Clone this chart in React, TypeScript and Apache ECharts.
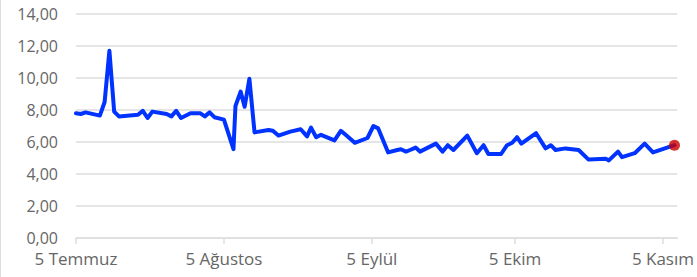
import React, { useEffect, useRef } from "react";
import * as echarts from "echarts";

// Dates (UTC, "YYYY-MM-DD" or "YYYY-MM-DD HH") and values
const dates: string[] = [
  "2023-07-05", "2023-07-06", "2023-07-07", "2023-07-10", "2023-07-11", "2023-07-12",
  "2023-07-13", "2023-07-14", "2023-07-18", "2023-07-19", "2023-07-20", "2023-07-21",
  "2023-07-24", "2023-07-25", "2023-07-26", "2023-07-27", "2023-07-29", "2023-07-31",
  "2023-08-01", "2023-08-02", "2023-08-03", "2023-08-05", "2023-08-07", "2023-08-07 10",
  "2023-08-08 12", "2023-08-09 08", "2023-08-10 08", "2023-08-11 10", "2023-08-14 08",
  "2023-08-15 06", "2023-08-16 10", "2023-08-18 22", "2023-08-21 02", "2023-08-22 10",
  "2023-08-23 06", "2023-08-24 08", "2023-08-25 08", "2023-08-28 04", "2023-08-29 12",
  "2023-08-30 12", "2023-09-01 10", "2023-09-04 02", "2023-09-05 08", "2023-09-06 08",
  "2023-09-08 10", "2023-09-10 08", "2023-09-11 02", "2023-09-12 04", "2023-09-13",
  "2023-09-14 04", "2023-09-15 02", "2023-09-18 10", "2023-09-19 20", "2023-09-20 22",
  "2023-09-22 02", "2023-09-25", "2023-09-27", "2023-09-28 10", "2023-09-29 10",
  "2023-10-02 02", "2023-10-03 08", "2023-10-04 10", "2023-10-05 10", "2023-10-06 08",
  "2023-10-09 10", "2023-10-11 10", "2023-10-12 12", "2023-10-13 12", "2023-10-15 14",
  "2023-10-18 08", "2023-10-20 10", "2023-10-24", "2023-10-24 16", "2023-10-26 14",
  "2023-10-27 10", "2023-10-30 02", "2023-11-01 04", "2023-11-02 22", "2023-11-07 10",
];
const values: number[] = [
  7.8, 7.75, 7.85, 7.65, 8.5, 11.7,
  7.9, 7.6, 7.7, 7.95, 7.5, 7.9,
  7.75, 7.6, 7.95, 7.5, 7.8, 7.8,
  7.6, 7.85, 7.55, 7.4, 5.55, 8.25,
  9.15, 8.2, 9.95, 6.6, 6.75,
  6.7, 6.4, 6.65, 6.8, 6.35,
  6.9, 6.3, 6.45, 6.1, 6.7,
  6.45, 5.95, 6.25, 7.0, 6.85,
  5.35, 5.5, 5.55, 5.4, 5.5,
  5.65, 5.4, 5.9, 5.4, 5.8,
  5.5, 6.4, 5.3, 5.8, 5.25,
  5.25, 5.8, 5.95, 6.3, 5.9,
  6.55, 5.6, 5.8, 5.5, 5.6,
  5.5, 4.9, 4.95, 4.85, 5.4,
  5.05, 5.3, 5.9, 5.35, 5.8,
];
const tickDates: string[] = ["2023-07-05", "2023-08-05", "2023-09-05", "2023-10-05", "2023-11-05"];
const axisStart = "2023-07-05";
const axisEnd = "2023-11-08";
const monthNames: string[] = [
  "Ocak", "Şubat", "Mart", "Nisan", "Mayıs", "Haziran",
  "Temmuz", "Ağustos", "Eylül", "Ekim", "Kasım", "Aralık",
];

function toTs(s: string): number {
  const [d, h] = s.split(" ");
  const [y, m, day] = d.split("-").map(Number);
  return Date.UTC(y, m - 1, day, h ? Number(h) : 0);
}

export default function App() {
  const ref = useRef<HTMLDivElement>(null);
  useEffect(() => {
    document.body.style.margin = "0";
    if (!ref.current) return;
    const chart = echarts.init(ref.current, undefined, { renderer: "svg" });
    const data = dates.map((d, i) => [toTs(d), values[i]]);
    const ticks = tickDates.map(toTs);
    chart.setOption({
      animation: false,
      grid: { left: 75, right: 15, top: 14, bottom: 39, containLabel: false },
      xAxis: {
        type: "value",
        min: toTs(axisStart),
        max: toTs(axisEnd),
        splitLine: { show: false },
        axisLine: { show: true, lineStyle: { color: "#dedede", width: 1.5 } },
        axisTick: {
          show: true,
          customValues: ticks,
          length: 6,
          lineStyle: { color: "#dedede", width: 1.5 },
        },
        axisLabel: {
          customValues: ticks,
          margin: 12,
          color: "#666666",
          fontFamily: "Open Sans",
          fontSize: 17,
          formatter: (v: number) => {
            const dt = new Date(v);
            return dt.getUTCDate() + " " + monthNames[dt.getUTCMonth()];
          },
        },
      },
      yAxis: {
        type: "value",
        min: 0,
        max: 14,
        interval: 2,
        axisLine: { show: false },
        axisTick: { show: false },
        splitLine: { lineStyle: { color: "#dcdcdc", width: 1.5 } },
        axisLabel: {
          margin: 18,
          color: "#666666",
          fontFamily: "Open Sans",
          fontSize: 16,
          formatter: (v: number) => v.toFixed(2).replace(".", ","),
        },
      },
      series: [
        {
          type: "line",
          data,
          showSymbol: false,
          symbol: "none",
          lineStyle: { color: "#0033ff", width: 4, join: "round", cap: "round" },
          z: 2,
        },
        {
          type: "scatter",
          data: [data[data.length - 1]],
          symbolSize: 11,
          itemStyle: { color: "#cc0000" },
          z: 3,
        },
      ],
    });
    return () => chart.dispose();
  }, []);
  return (
    <div
      ref={ref}
      style={{ width: 697, height: 277, boxSizing: "border-box", borderLeft: "1px solid #dddddd" }}
    />
  );
}
